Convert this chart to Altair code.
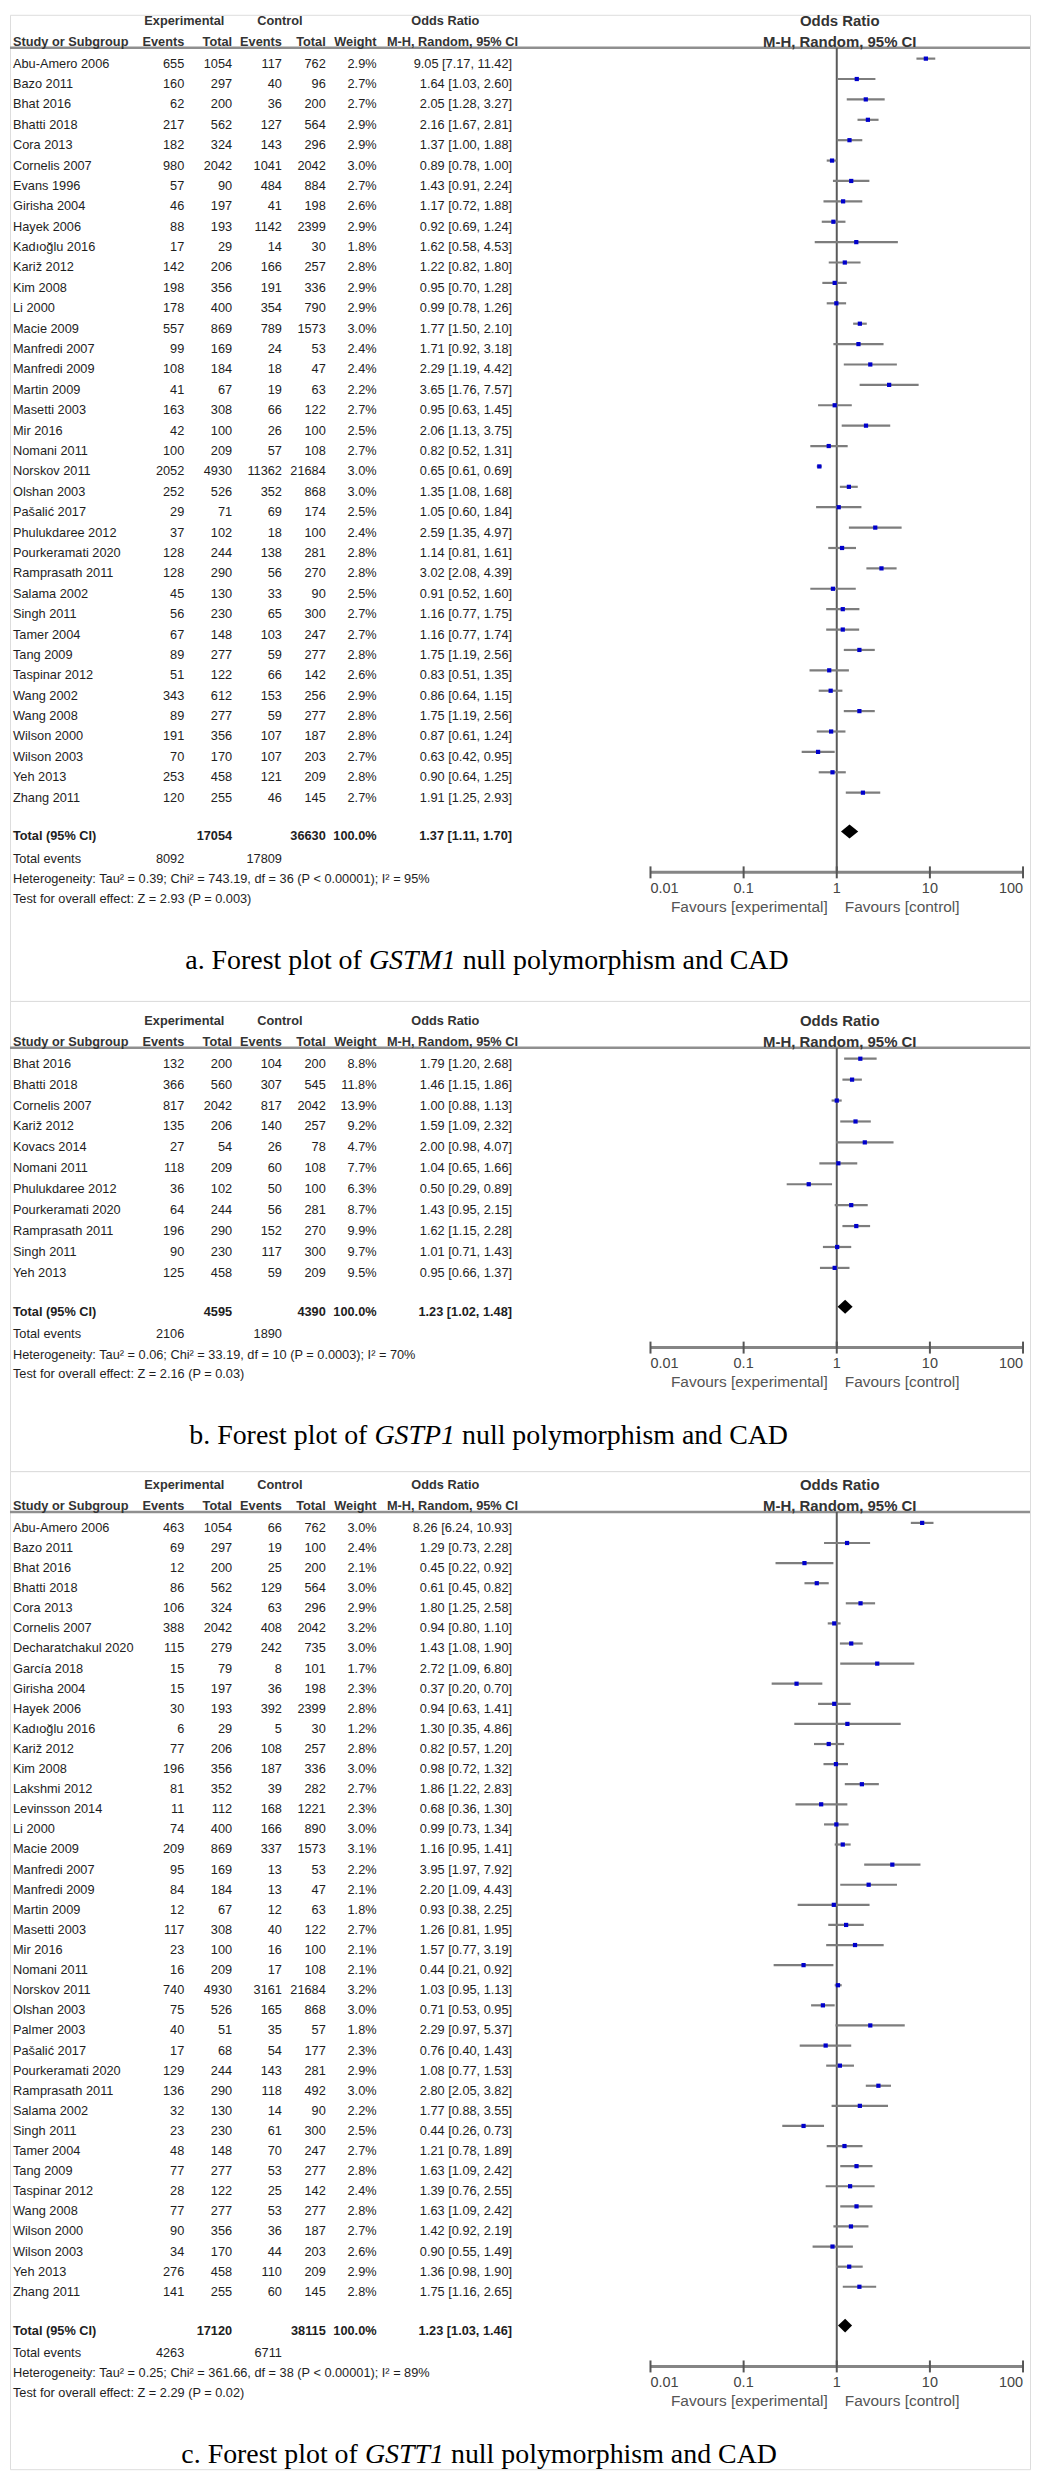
import altair as alt
import pandas as pd

# ---------------- Panel a: GSTM1 ----------------
studies_a = ["Abu-Amero 2006", "Bazo 2011", "Bhat 2016", "Bhatti 2018", "Cora 2013", "Cornelis 2007",
             "Evans 1996", "Girisha 2004", "Hayek 2006", "Kadıoğlu 2016", "Kariž 2012", "Kim 2008",
             "Li 2000", "Macie 2009", "Manfredi 2007", "Manfredi 2009", "Martin 2009", "Masetti 2003",
             "Mir 2016", "Nomani 2011", "Norskov 2011", "Olshan 2003", "Pašalić 2017", "Phulukdaree 2012",
             "Pourkeramati 2020", "Ramprasath 2011", "Salama 2002", "Singh 2011", "Tamer 2004", "Tang 2009",
             "Taspinar 2012", "Wang 2002", "Wang 2008", "Wilson 2000", "Wilson 2003", "Yeh 2013", "Zhang 2011"]
exp_events_a = [655, 160, 62, 217, 182, 980, 57, 46, 88, 17, 142, 198, 178, 557, 99, 108, 41, 163, 42, 100,
                2052, 252, 29, 37, 128, 128, 45, 56, 67, 89, 51, 343, 89, 191, 70, 253, 120]
exp_total_a = [1054, 297, 200, 562, 324, 2042, 90, 197, 193, 29, 206, 356, 400, 869, 169, 184, 67, 308, 100,
               209, 4930, 526, 71, 102, 244, 290, 130, 230, 148, 277, 122, 612, 277, 356, 170, 458, 255]
ctrl_events_a = [117, 40, 36, 127, 143, 1041, 484, 41, 1142, 14, 166, 191, 354, 789, 24, 18, 19, 66, 26, 57,
                 11362, 352, 69, 18, 138, 56, 33, 65, 103, 59, 66, 153, 59, 107, 107, 121, 46]
ctrl_total_a = [762, 96, 200, 564, 296, 2042, 884, 198, 2399, 30, 257, 336, 790, 1573, 53, 47, 63, 122, 100,
                108, 21684, 868, 174, 100, 281, 270, 90, 300, 247, 277, 142, 256, 277, 187, 203, 209, 145]
weight_a = [2.9, 2.7, 2.7, 2.9, 2.9, 3.0, 2.7, 2.6, 2.9, 1.8, 2.8, 2.9, 2.9, 3.0, 2.4, 2.4, 2.2, 2.7, 2.5, 2.7,
            3.0, 3.0, 2.5, 2.4, 2.8, 2.8, 2.5, 2.7, 2.7, 2.8, 2.6, 2.9, 2.8, 2.8, 2.7, 2.8, 2.7]
or_a = [9.05, 1.64, 2.05, 2.16, 1.37, 0.89, 1.43, 1.17, 0.92, 1.62, 1.22, 0.95, 0.99, 1.77, 1.71, 2.29, 3.65,
        0.95, 2.06, 0.82, 0.65, 1.35, 1.05, 2.59, 1.14, 3.02, 0.91, 1.16, 1.16, 1.75, 0.83, 0.86, 1.75, 0.87,
        0.63, 0.90, 1.91]
lo_a = [7.17, 1.03, 1.28, 1.67, 1.00, 0.78, 0.91, 0.72, 0.69, 0.58, 0.82, 0.70, 0.78, 1.50, 0.92, 1.19, 1.76,
        0.63, 1.13, 0.52, 0.61, 1.08, 0.60, 1.35, 0.81, 2.08, 0.52, 0.77, 0.77, 1.19, 0.51, 0.64, 1.19, 0.61,
        0.42, 0.64, 1.25]
hi_a = [11.42, 2.60, 3.27, 2.81, 1.88, 1.00, 2.24, 1.88, 1.24, 4.53, 1.80, 1.28, 1.26, 2.10, 3.18, 4.42, 7.57,
        1.45, 3.75, 1.31, 0.69, 1.68, 1.84, 4.97, 1.61, 4.39, 1.60, 1.75, 1.74, 2.56, 1.35, 1.15, 2.56, 1.24,
        0.95, 1.25, 2.93]
totals_a = ["17054", "36630", "100.0%", "1.37 [1.11, 1.70]"]
total_events_a = ["8092", "17809"]
pooled_a = [1.37, 1.11, 1.70]
het_a = "Heterogeneity: Tau² = 0.39; Chi² = 743.19, df = 36 (P < 0.00001); I² = 95%"
test_a = "Test for overall effect: Z = 2.93 (P = 0.003)"
caption_a = ["a. Forest plot of ", "GSTM1", " null polymorphism and CAD"]

# ---------------- Panel b: GSTP1 ----------------
studies_b = ["Bhat 2016", "Bhatti 2018", "Cornelis 2007", "Kariž 2012", "Kovacs 2014", "Nomani 2011",
             "Phulukdaree 2012", "Pourkeramati 2020", "Ramprasath 2011", "Singh 2011", "Yeh 2013"]
exp_events_b = [132, 366, 817, 135, 27, 118, 36, 64, 196, 90, 125]
exp_total_b = [200, 560, 2042, 206, 54, 209, 102, 244, 290, 230, 458]
ctrl_events_b = [104, 307, 817, 140, 26, 60, 50, 56, 152, 117, 59]
ctrl_total_b = [200, 545, 2042, 257, 78, 108, 100, 281, 270, 300, 209]
weight_b = [8.8, 11.8, 13.9, 9.2, 4.7, 7.7, 6.3, 8.7, 9.9, 9.7, 9.5]
or_b = [1.79, 1.46, 1.00, 1.59, 2.00, 1.04, 0.50, 1.43, 1.62, 1.01, 0.95]
lo_b = [1.20, 1.15, 0.88, 1.09, 0.98, 0.65, 0.29, 0.95, 1.15, 0.71, 0.66]
hi_b = [2.68, 1.86, 1.13, 2.32, 4.07, 1.66, 0.89, 2.15, 2.28, 1.43, 1.37]
totals_b = ["4595", "4390", "100.0%", "1.23 [1.02, 1.48]"]
total_events_b = ["2106", "1890"]
pooled_b = [1.23, 1.02, 1.48]
het_b = "Heterogeneity: Tau² = 0.06; Chi² = 33.19, df = 10 (P = 0.0003); I² = 70%"
test_b = "Test for overall effect: Z = 2.16 (P = 0.03)"
caption_b = ["b. Forest plot of ", "GSTP1", " null polymorphism and CAD"]

# ---------------- Panel c: GSTT1 ----------------
studies_c = ["Abu-Amero 2006", "Bazo 2011", "Bhat 2016", "Bhatti 2018", "Cora 2013", "Cornelis 2007",
             "Decharatchakul 2020", "García 2018", "Girisha 2004", "Hayek 2006", "Kadıoğlu 2016", "Kariž 2012",
             "Kim 2008", "Lakshmi 2012", "Levinsson 2014", "Li 2000", "Macie 2009", "Manfredi 2007",
             "Manfredi 2009", "Martin 2009", "Masetti 2003", "Mir 2016", "Nomani 2011", "Norskov 2011",
             "Olshan 2003", "Palmer 2003", "Pašalić 2017", "Pourkeramati 2020", "Ramprasath 2011",
             "Salama 2002", "Singh 2011", "Tamer 2004", "Tang 2009", "Taspinar 2012", "Wang 2008",
             "Wilson 2000", "Wilson 2003", "Yeh 2013", "Zhang 2011"]
exp_events_c = [463, 69, 12, 86, 106, 388, 115, 15, 15, 30, 6, 77, 196, 81, 11, 74, 209, 95, 84, 12, 117, 23,
                16, 740, 75, 40, 17, 129, 136, 32, 23, 48, 77, 28, 77, 90, 34, 276, 141]
exp_total_c = [1054, 297, 200, 562, 324, 2042, 279, 79, 197, 193, 29, 206, 356, 352, 112, 400, 869, 169, 184,
               67, 308, 100, 209, 4930, 526, 51, 68, 244, 290, 130, 230, 148, 277, 122, 277, 356, 170, 458, 255]
ctrl_events_c = [66, 19, 25, 129, 63, 408, 242, 8, 36, 392, 5, 108, 187, 39, 168, 166, 337, 13, 13, 12, 40, 16,
                 17, 3161, 165, 35, 54, 143, 118, 14, 61, 70, 53, 25, 53, 36, 44, 110, 60]
ctrl_total_c = [762, 100, 200, 564, 296, 2042, 735, 101, 198, 2399, 30, 257, 336, 282, 1221, 890, 1573, 53, 47,
                63, 122, 100, 108, 21684, 868, 57, 177, 281, 492, 90, 300, 247, 277, 142, 277, 187, 203, 209, 145]
weight_c = [3.0, 2.4, 2.1, 3.0, 2.9, 3.2, 3.0, 1.7, 2.3, 2.8, 1.2, 2.8, 3.0, 2.7, 2.3, 3.0, 3.1, 2.2, 2.1, 1.8,
            2.7, 2.1, 2.1, 3.2, 3.0, 1.8, 2.3, 2.9, 3.0, 2.2, 2.5, 2.7, 2.8, 2.4, 2.8, 2.7, 2.6, 2.9, 2.8]
or_c = [8.26, 1.29, 0.45, 0.61, 1.80, 0.94, 1.43, 2.72, 0.37, 0.94, 1.30, 0.82, 0.98, 1.86, 0.68, 0.99, 1.16,
        3.95, 2.20, 0.93, 1.26, 1.57, 0.44, 1.03, 0.71, 2.29, 0.76, 1.08, 2.80, 1.77, 0.44, 1.21, 1.63, 1.39,
        1.63, 1.42, 0.90, 1.36, 1.75]
lo_c = [6.24, 0.73, 0.22, 0.45, 1.25, 0.80, 1.08, 1.09, 0.20, 0.63, 0.35, 0.57, 0.72, 1.22, 0.36, 0.73, 0.95,
        1.97, 1.09, 0.38, 0.81, 0.77, 0.21, 0.95, 0.53, 0.97, 0.40, 0.77, 2.05, 0.88, 0.26, 0.78, 1.09, 0.76,
        1.09, 0.92, 0.55, 0.98, 1.16]
hi_c = [10.93, 2.28, 0.92, 0.82, 2.58, 1.10, 1.90, 6.80, 0.70, 1.41, 4.86, 1.20, 1.32, 2.83, 1.30, 1.34, 1.41,
        7.92, 4.43, 2.25, 1.95, 3.19, 0.92, 1.13, 0.95, 5.37, 1.43, 1.53, 3.82, 3.55, 0.73, 1.89, 2.42, 2.55,
        2.42, 2.19, 1.49, 1.90, 2.65]
totals_c = ["17120", "38115", "100.0%", "1.23 [1.03, 1.46]"]
total_events_c = ["4263", "6711"]
pooled_c = [1.23, 1.03, 1.46]
het_c = "Heterogeneity: Tau² = 0.25; Chi² = 361.66, df = 38 (P < 0.00001); I² = 89%"
test_c = "Test for overall effect: Z = 2.29 (P = 0.02)"
caption_c = ["c. Forest plot of ", "GSTT1", " null polymorphism and CAD"]

# ---------------- shared labels ----------------
header1 = ["Experimental", "Control", "Odds Ratio", "Odds Ratio"]
header2 = ["Study or Subgroup", "Events", "Total", "Events", "Total", "Weight",
           "M-H, Random, 95% CI", "M-H, Random, 95% CI"]
tick_values = [0.01, 0.1, 1, 10, 100]
tick_labels = ["0.01", "0.1", "1", "10", "100"]
favours = ["Favours [experimental]", "Favours [control]"]
total_labels = ["Total (95% CI)", "Total events"]

# ---------------- style / layout ----------------
W = 1024
TFONT = "'Liberation Sans', Arial, sans-serif"
PFONT = "'Liberation Sans', Arial, sans-serif"
SERIF = "'Liberation Serif', 'Times New Roman', serif"
TSIZE = 12.8
TCOL = "#1e1e1e"
HCOL = "#333333"
CI_COL = "#7d7d7d"
SQ_COL = "#0000cc"
X_STUDY, X_EE, X_ET, X_CE, X_CT, X_W, X_CI = 3, 175, 223, 273, 317, 368, 504
X_HEXP, X_HCTL, X_HOR, X_HMH, X_PH = 175, 271, 437, 510, 833
X_RANGE = [643, 1017]
CAP_SIZE = 28

TIMES_R = {'a': 444, 'b': 500, 'c': 444, '.': 250, ' ': 250, 'F': 556, 'o': 500, 'r': 333, 'e': 444,
           's': 389, 't': 278, 'p': 500, 'l': 278, 'f': 333}
TIMES_I = {'G': 722, 'S': 500, 'T': 556, 'M': 833, 'P': 611, '1': 500}


def twidth(s, table):
    return sum(table.get(ch, 500) for ch in s) * CAP_SIZE / 1000.0


def build_panel(studies, ee, et, ce, ct, wt, est, lo, hi, totals, tevents, pooled, het, test, caption,
                s, y0, height, capx):
    n = len(studies)
    L = n - 1
    ys = alt.Scale(domain=[-y0 / s, (height - y0) / s], reverse=True, nice=False, zero=False)
    xs = alt.Scale(type="log", domain=[0.01, 100], range=X_RANGE, nice=False)

    def Y(f="row"):
        return alt.Y(f + ":Q", scale=ys, axis=None)

    def X(f):
        return alt.X(f + ":Q", scale=xs, axis=None)

    def after(px):
        return L + px / s

    def before(px):
        return -px / s

    layers = []

    def txt(text, x, row, align="left", bold=False, font=TFONT, size=TSIZE, color=TCOL, italic=False):
        df = pd.DataFrame({"row": [row], "t": [text]})
        layers.append(
            alt.Chart(df).mark_text(align=align, baseline="middle", font=font, fontSize=size,
                                    fontWeight="bold" if bold else "normal",
                                    fontStyle="italic" if italic else "normal", color=color)
            .encode(x=alt.value(x), y=Y(), text="t:N"))

    # header
    hl = pd.DataFrame({"row": [before(16)]})
    layers.append(alt.Chart(hl).mark_rule(color="#8f8f8f", strokeWidth=2.5)
                  .encode(x=alt.value(0), x2=alt.value(W), y=Y()))
    r1, r2 = before(43), before(22)
    txt(header1[0], X_HEXP, r1, "center", True, color=HCOL)
    txt(header1[1], X_HCTL, r1, "center", True, color=HCOL)
    txt(header1[2], X_HOR, r1, "center", True, color=HCOL)
    txt(header1[3], X_PH, r1, "center", True, font=PFONT, size=15, color=HCOL)
    txt(header2[0], X_STUDY, r2, "left", True, color=HCOL)
    for lab, x in zip(header2[1:6], [X_EE, X_ET, X_CE, X_CT, X_W]):
        txt(lab, x, r2, "right", True, color=HCOL)
    txt(header2[6], X_HMH, r2, "right", True, color=HCOL)
    txt(header2[7], X_PH, r2, "center", True, font=PFONT, size=15, color=HCOL)

    # study table
    tab = pd.DataFrame({
        "row": list(range(n)), "study": studies,
        "ee": [str(v) for v in ee], "et": [str(v) for v in et],
        "ce": [str(v) for v in ce], "ct": [str(v) for v in ct],
        "w": [f"{v:.1f}%" for v in wt],
        "ci": [f"{o:.2f} [{a:.2f}, {b:.2f}]" for o, a, b in zip(est, lo, hi)],
        "est": est, "lo": lo, "hi": hi})
    for col, x, al in [("study", X_STUDY, "left"), ("ee", X_EE, "right"), ("et", X_ET, "right"),
                       ("ce", X_CE, "right"), ("ct", X_CT, "right"), ("w", X_W, "right"),
                       ("ci", X_CI, "right")]:
        layers.append(alt.Chart(tab).mark_text(align=al, baseline="middle", font=TFONT, fontSize=TSIZE,
                                               color=TCOL)
                      .encode(x=alt.value(x), y=Y(), text=f"{col}:N"))

    # totals
    rt = after(39)
    txt(total_labels[0], X_STUDY, rt, "left", True)
    txt(totals[0], X_ET, rt, "right", True)
    txt(totals[1], X_CT, rt, "right", True)
    txt(totals[2], X_W, rt, "right", True)
    txt(totals[3], X_CI, rt, "right", True)
    re_ = after(61.5)
    txt(total_labels[1], X_STUDY, re_, "left")
    txt(tevents[0], X_EE, re_, "right")
    txt(tevents[1], X_CE, re_, "right")
    txt(het, X_STUDY, after(82), "left")
    txt(test, X_STUDY, after(101.5), "left")

    # forest: centre line, CIs, squares, diamond
    r_axis = after(75)
    vl = pd.DataFrame({"v": [1], "row": [before(16)], "row2": [r_axis]})
    layers.append(alt.Chart(vl).mark_rule(color="#5a5a5a", strokeWidth=2)
                  .encode(x=X("v"), y=Y(), y2="row2:Q"))
    layers.append(alt.Chart(tab).mark_rule(color=CI_COL, strokeWidth=2.2, yOffset=-5)
                  .encode(x=X("lo"), x2="hi:Q", y=Y()))
    layers.append(alt.Chart(tab).mark_square(color=SQ_COL, size=18, opacity=1, yOffset=-5)
                  .encode(x=X("est"), y=Y()))
    dc = rt - 5 / s
    dh = 7 / s
    dia = pd.DataFrame({"v": [pooled[1], pooled[0], pooled[2]],
                        "top": [dc, dc - dh, dc], "bot": [dc, dc + dh, dc]})
    layers.append(alt.Chart(dia).mark_area(color="black", opacity=1)
                  .encode(x=X("v"), y=Y("top"), y2="bot:Q"))

    # x axis
    ax = pd.DataFrame({"a": [tick_values[0]], "b": [tick_values[-1]], "row": [r_axis]})
    layers.append(alt.Chart(ax).mark_rule(color="#858585", strokeWidth=3)
                  .encode(x=X("a"), x2="b:Q", y=Y()))
    tk = pd.DataFrame({"v": tick_values, "row": [r_axis - 6 / s] * 5, "row2": [r_axis + 6 / s] * 5})
    layers.append(alt.Chart(tk).mark_rule(color="#555555", strokeWidth=2)
                  .encode(x=X("v"), y=Y(), y2="row2:Q"))
    rl = after(91.5)
    tl = pd.DataFrame({"v": tick_values, "lab": tick_labels, "row": [rl] * 5})
    for sub, al in [(tl.iloc[[0]], "left"), (tl.iloc[1:4], "center"), (tl.iloc[[4]], "right")]:
        layers.append(alt.Chart(sub).mark_text(align=al, baseline="middle", font=PFONT, fontSize=14.5,
                                               color="#444444")
                      .encode(x=X("v"), y=Y(), text="lab:N"))
    rf = after(110)
    fv = pd.DataFrame({"v": [1], "row": [rf], "a": [favours[0]], "b": [favours[1]]})
    layers.append(alt.Chart(fv).mark_text(align="right", baseline="middle", font=PFONT, fontSize=15.5,
                                          color="#555555", dx=-9)
                  .encode(x=X("v"), y=Y(), text="a:N"))
    layers.append(alt.Chart(fv).mark_text(align="left", baseline="middle", font=PFONT, fontSize=15.5,
                                          color="#555555", dx=8)
                  .encode(x=X("v"), y=Y(), text="b:N"))

    # caption (three runs: roman, italic gene symbol, roman); SVG drops leading/trailing
    # blanks, so the blank widths are added to the run positions instead
    rc = after(164)
    x1 = capx
    x2 = x1 + twidth(caption[0], TIMES_R)
    x3 = x2 + twidth(caption[1], TIMES_I) + twidth(" ", TIMES_R)
    txt(caption[0].strip(), x1, rc, "left", font=SERIF, size=CAP_SIZE, color="#000000")
    txt(caption[1], x2, rc, "left", font=SERIF, size=CAP_SIZE, color="#000000", italic=True)
    txt(caption[2].strip(), x3, rc, "left", font=SERIF, size=CAP_SIZE, color="#000000")

    return alt.layer(*layers).properties(width=W, height=height)


panel_a = build_panel(studies_a, exp_events_a, exp_total_a, ctrl_events_a, ctrl_total_a, weight_a,
                      or_a, lo_a, hi_a, totals_a, total_events_a, pooled_a, het_a, test_a, caption_a,
                      s=20.47, y0=49, height=990, capx=176)
panel_b = build_panel(studies_b, exp_events_b, exp_total_b, ctrl_events_b, ctrl_total_b, weight_b,
                      or_b, lo_b, hi_b, totals_b, total_events_b, pooled_b, het_b, test_b, caption_b,
                      s=21.0, y0=63, height=472, capx=180)
panel_c = build_panel(studies_c, exp_events_c, exp_total_c, ctrl_events_c, ctrl_total_c, weight_c,
                      or_c, lo_c, hi_c, totals_c, total_events_c, pooled_c, het_c, test_c, caption_c,
                      s=20.18, y0=57, height=1002, capx=172)

chart = alt.vconcat(panel_a, panel_b, panel_c, spacing=0, bounds="flush").properties(
    padding=0
).configure_view(stroke=None).configure(background="white")

chart.save("out.html", embed_options={"renderer": "svg", "actions": False})
